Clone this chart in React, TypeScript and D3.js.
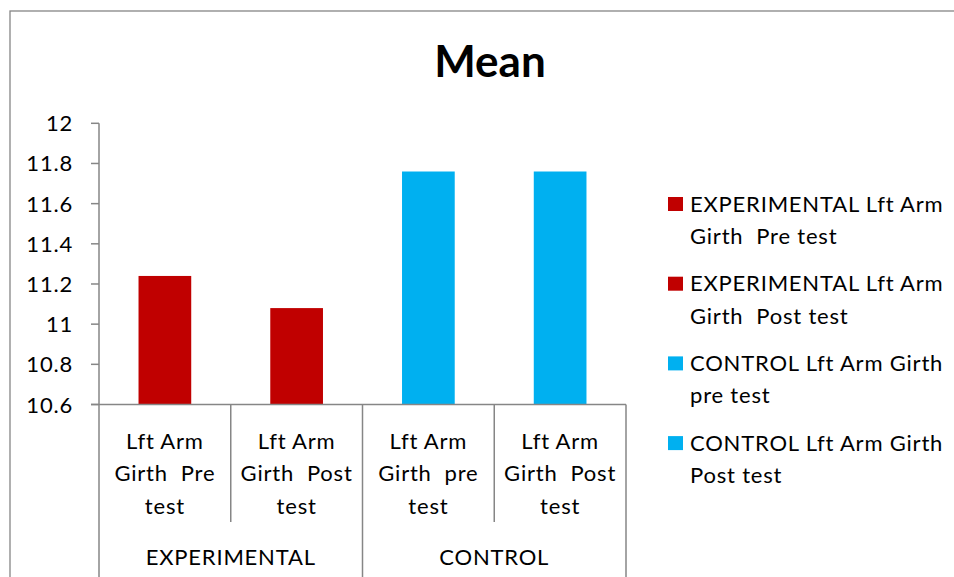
import React from "react";
import * as d3 from "d3";

const categories = ["exp-pre", "exp-post", "ctl-pre", "ctl-post"];
const categoryLabels = [
  ["Lft Arm", "Girth  Pre", "test"],
  ["Lft Arm", "Girth  Post", "test"],
  ["Lft Arm", "Girth  pre", "test"],
  ["Lft Arm", "Girth  Post", "test"],
];
const groups = ["EXPERIMENTAL", "CONTROL"];
const groupSpans = [[0, 1], [2, 3]];
const values = [11.24, 11.08, 11.76, 11.76];
const seriesColors = ["#C00000", "#C00000", "#00B0F0", "#00B0F0"];
const legendLabels = [
  ["EXPERIMENTAL Lft Arm", "Girth  Pre test"],
  ["EXPERIMENTAL Lft Arm", "Girth  Post test"],
  ["CONTROL Lft Arm Girth", "pre test"],
  ["CONTROL Lft Arm Girth", "Post test"],
];
const yTicks = [10.6, 10.8, 11, 11.2, 11.4, 11.6, 11.8, 12];
const title = "Mean";

const W = 954;
const H = 577;
const FONT = "Lato, Carlito, Calibri, sans-serif";
const AXIS = "#868686";
const FS = 22;
const LS = 0.8;

export default function App() {
  const y = d3.scaleLinear().domain([10.6, 12]).range([404.5, 123.3]);
  const x = d3.scaleBand<string>().domain(categories).range([99, 626]).paddingInner(0).paddingOuter(0);
  const bw = x.bandwidth() * 0.4;
  const base = y(10.6);

  return (
    <svg width={W} height={H} style={{ position: "absolute", left: 0, top: 0, background: "#fff" }} fontFamily={FONT}>
      <rect x={0} y={0} width={W} height={H} fill="#fff" />
      <rect x={10} y={11} width={980} height={620} fill="none" stroke={AXIS} strokeWidth={1.3} />
      <text x={490} y={77} textAnchor="middle" fontSize={44} fontWeight="bold" fill="#000">{title}</text>

      {/* y axis */}
      <line x1={99} x2={99} y1={y(12)} y2={base} stroke={AXIS} strokeWidth={1.5} />
      {yTicks.map((t) => (
        <g key={t}>
          <line x1={91} x2={99} y1={y(t)} y2={y(t)} stroke={AXIS} strokeWidth={1.5} />
          <text x={73} y={y(t) + 8} textAnchor="end" fontSize={FS} letterSpacing={LS} fill="#000">{d3.format("~g")(t)}</text>
        </g>
      ))}

      {/* bars */}
      {categories.map((c, i) => (
        <rect key={c} x={(x(c) as number) + (x.bandwidth() - bw) / 2} y={y(values[i])} width={bw} height={base - y(values[i])} fill={seriesColors[i]} />
      ))}

      {/* x axis */}
      <line x1={91} x2={626} y1={base} y2={base} stroke={AXIS} strokeWidth={1.5} />
      {categories.map((c, i) => {
        const x0 = x(c) as number;
        const isGroupEdge = i === 0 || i === 2;
        return (
          <line key={"d" + c} x1={x0} x2={x0} y1={base} y2={isGroupEdge ? H + 5 : 522} stroke={AXIS} strokeWidth={1.5} />
        );
      })}
      <line x1={626} x2={626} y1={base} y2={H + 5} stroke={AXIS} strokeWidth={1.5} />
      {categories.map((c, i) => (
        <text key={"t" + c} textAnchor="middle" fontSize={FS} letterSpacing={LS} fill="#000" style={{ whiteSpace: "pre" }}>
          {categoryLabels[i].map((ln, j) => (
            <tspan key={j} x={(x(c) as number) + x.bandwidth() / 2} y={448.5 + j * 32.5}>{ln}</tspan>
          ))}
        </text>
      ))}
      {groups.map((g, gi) => {
        const a = x(categories[groupSpans[gi][0]]) as number;
        const b = (x(categories[groupSpans[gi][1]]) as number) + x.bandwidth();
        return (
          <text key={g} x={(a + b) / 2} y={565} textAnchor="middle" fontSize={FS} letterSpacing={LS} fill="#000">{g}</text>
        );
      })}

      {/* legend */}
      {legendLabels.map((lines, i) => (
        <g key={i}>
          <rect x={668} y={197 + i * 79.7} width={15} height={14} fill={seriesColors[i]} />
          <text fontSize={FS} letterSpacing={LS} fill="#000" style={{ whiteSpace: "pre" }}>
            {lines.map((ln, j) => (
              <tspan key={j} x={690} y={211.5 + i * 79.7 + j * 32.5}>{ln}</tspan>
            ))}
          </text>
        </g>
      ))}
    </svg>
  );
}
